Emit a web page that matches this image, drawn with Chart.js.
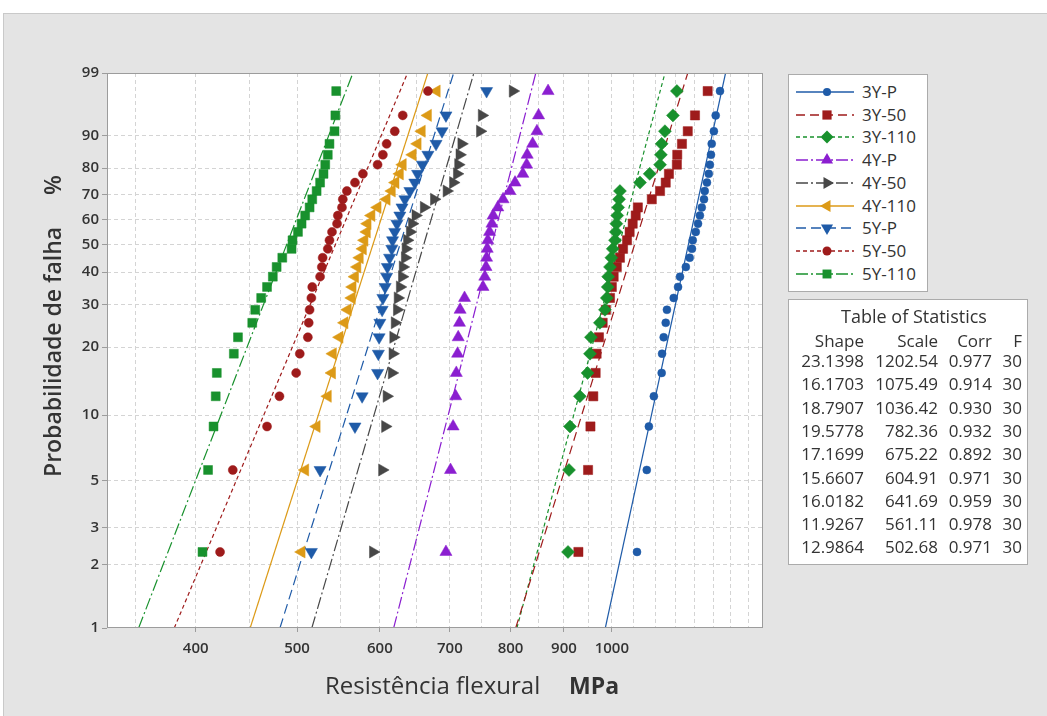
<!DOCTYPE html>
<html>
<head>
<meta charset="utf-8">
<script src="https://cdn.jsdelivr.net/npm/chart.js@4.4.1/dist/chart.umd.min.js"></script>
<style>
  html,body{margin:0;padding:0;background:#fff;width:1047px;height:716px;overflow:hidden;font-family:"Open Sans",sans-serif;color:#333;}
  #bg{position:absolute;left:3px;top:13px;width:1044px;height:703px;background:#e4e4e4;border-top:1px solid #c9c9c9;border-left:1px solid #c9c9c9;box-sizing:border-box;}
  #c{position:absolute;left:0;top:0;}
  .box{position:absolute;background:#fff;border:1px solid #ababab;box-sizing:border-box;}
  .t{position:absolute;white-space:nowrap;}
</style>
</head>
<body>
<div id="bg"></div>
<canvas id="c" width="1047" height="716"></canvas>
<div id="legend" class="box" style="left:788px;top:74px;width:140px;height:218px;"></div>
<div id="stats" class="box" style="left:788px;top:299px;width:240px;height:266px;"></div>
<div class="t" style="left:325px;top:670px;font-size:24px;line-height:30px;">Resistência flexural</div>
<div class="t" style="left:569px;top:670px;font-size:23px;line-height:30px;font-weight:700;">MPa</div>
<div class="t" style="left:37px;top:477px;font-size:23px;line-height:30px;font-weight:600;transform-origin:left top;transform:rotate(-90deg);">Probabilidade de falha</div>
<div class="t" style="left:37px;top:195px;font-size:23px;line-height:30px;font-weight:600;transform-origin:left top;transform:rotate(-90deg);">%</div>
<script>
// ---------------- DATA ----------------
const seriesNames = ['3Y-P','3Y-50','3Y-110','4Y-P','4Y-50','4Y-110','5Y-P','5Y-50','5Y-110'];
// plotting positions (% failure) shared by every series, 30 specimens each
const rankPct = [2.30, 5.59, 8.88, 12.17, 15.46, 18.75, 22.04, 25.33, 28.62, 31.91,
                 35.20, 38.49, 41.78, 45.07, 48.36, 51.64, 54.93, 58.22, 61.51, 64.80,
                 68.09, 71.38, 74.67, 77.96, 81.25, 84.54, 87.83, 91.12, 94.41, 97.70];
const v3YP   = [1057,1080,1085,1097,1116,1117,1121,1126,1129,1146,1157,1162,1177,1187,1193,1195,1203,1209,1214,1219,1225,1227,1233,1238,1241,1244,1246,1252,1257,1269];
const v3Y50  = [929,949,954,960,965,967,972,980,987,996,1000,1004,1011,1018,1025,1034,1040,1047,1054,1059,1092,1112,1126,1134,1154,1155,1167,1182,1201,1235];
const v3Y110 = [908,910,912,932,948,953,955,974,985,989,991,992,996,999,1002,1007,1009,1010,1012,1014,1016,1018,1064,1087,1112,1114,1116,1124,1144,1154];
const v4YP   = [694,701,705,709,710,712,713,715,716,723,753,756,758,759,760,761,764,768,770,778,787,799,808,822,829,830,840,848,851,869];
const v4Y50  = [591,603,607,609,616,617,618,620,623,624,627,630,631,634,635,637,641,644,649,661,676,695,705,711,713,715,718,748,751,804];
const v4Y110 = [505,509,522,535,540,541,549,555,559,564,565,568,571,574,578,580,583,584,589,597,609,616,621,627,631,645,652,658,667,680];
const v5YP   = [516,526,568,577,597,598,599,600,603,604,607,609,610,613,616,617,620,623,627,630,634,641,648,652,659,667,679,688,694,759];
const v5Y50  = [422,434,468,481,499,503,512,513,514,516,517,526,528,529,535,537,540,546,547,552,553,558,568,578,597,604,609,620,631,667];
const v5Y110 = [406,411,416,418,419,435,439,453,456,462,468,474,478,484,494,495,501,505,509,514,517,522,526,530,532,535,537,543,544,545];
// Table of Statistics
const shapes = [23.1398, 16.1703, 18.7907, 19.5778, 17.1699, 15.6607, 16.0182, 11.9267, 12.9864];
const scales = [1202.54, 1075.49, 1036.42, 782.36, 675.22, 604.91, 641.69, 561.11, 502.68];
const corrs  = ['0.977','0.914','0.930','0.932','0.892','0.971','0.959','0.978','0.971'];
const fails  = [30, 30, 30, 30, 30, 30, 30, 30, 30];
// axis ticks
const yTickLabels = [1, 2, 3, 5, 10, 20, 30, 40, 50, 60, 70, 80, 90, 99];
const xTickLabels = [400, 500, 600, 700, 800, 900, 1000];
const xGridValues = [350,400,450,500,550,600,650,700,750,800,850,900,950,1000,1050,1100,1150,1200,1250,1300,1350];

// ---------------- STYLE ----------------
const seriesValues = [v3YP, v3Y50, v3Y110, v4YP, v4Y50, v4Y110, v5YP, v5Y50, v5Y110];
const styles = [
  {color:'#1f5ba8', marker:'circle',   rot:0,   r:4,   dash:[]},
  {color:'#9e1b1b', marker:'rect',     rot:0,   r:6.5, dash:[9,5]},
  {color:'#18912d', marker:'rectRot',  rot:0,   r:6.5, dash:[4,3]},
  {color:'#8b1fd0', marker:'triangle', rot:0,   r:7,   dash:[12,3,2,3]},
  {color:'#474747', marker:'triangle', rot:90,  r:7,   dash:[12,3,2,3]},
  {color:'#dc9a17', marker:'triangle', rot:270, r:7,   dash:[]},
  {color:'#1f5ba8', marker:'triangle', rot:180, r:7,   dash:[10,5]},
  {color:'#9e1b1b', marker:'circle',   rot:0,   r:4.5, dash:[4,3]},
  {color:'#18912d', marker:'rect',     rot:0,   r:6.3, dash:[12,3,2,3]}
];

// Weibull probability transform
const wb = p => Math.log(-Math.log(1 - p / 100));

const pointSets = seriesNames.map((n, k) => ({
  label: n,
  data: seriesValues[k].map((v, i) => ({x: v, y: wb(rankPct[i])})),
  showLine: false,
  pointStyle: styles[k].marker,
  pointRotation: styles[k].rot,
  pointRadius: styles[k].r,
  pointHoverRadius: styles[k].r,
  pointBackgroundColor: styles[k].color,
  pointBorderColor: styles[k].color,
  pointBorderWidth: 0.5,
  order: 50 - k
}));
const fitSets = seriesNames.map((n, k) => {
  const xAt = p => scales[k] * Math.pow(-Math.log(1 - p / 100), 1 / shapes[k]);
  return {
    label: n + ' fit',
    data: [{x: xAt(1), y: wb(1)}, {x: xAt(99), y: wb(99)}],
    showLine: true,
    pointRadius: 0,
    borderColor: styles[k].color,
    borderWidth: 1.2,
    borderDash: styles[k].dash,
    order: 100
  };
});

const plotFrame = {
  id: 'plotFrame',
  beforeDraw(c) {
    const a = c.chartArea, g = c.ctx;
    g.save(); g.fillStyle = '#fff';
    g.fillRect(a.left, a.top, a.right - a.left, a.bottom - a.top);
    g.restore();
  },
  afterDraw(c) {
    const a = c.chartArea, g = c.ctx;
    g.save(); g.strokeStyle = '#9c9c9c'; g.lineWidth = 1;
    g.strokeRect(a.left + 0.5, a.top + 0.5, a.right - a.left - 1, a.bottom - a.top - 1);
    g.restore();
  }
};

new Chart(document.getElementById('c'), {
  type: 'scatter',
  data: {datasets: [...pointSets, ...fitSets]},
  plugins: [plotFrame],
  options: {
    responsive: false,
    animation: false,
    devicePixelRatio: 1,
    layout: {padding: {left: 0, top: 73, right: 284, bottom: 0}},
    plugins: {legend: {display: false}, tooltip: {enabled: false}},
    scales: {
      x: {
        type: 'logarithmic', min: 329, max: 1395, bounds: 'data',
        afterFit(s) { s.height = 88; },
        afterBuildTicks(s) { s.ticks = xGridValues.map(v => ({value: v})); },
        ticks: {
          autoSkip: false, maxRotation: 0, minRotation: 0, padding: 8, color: '#333',
          font: {family: 'Open Sans', size: 15, weight: '600'},
          callback: v => xTickLabels.includes(v) ? String(v) : ''
        },
        grid: {
          color: '#d4d4d4', lineWidth: 1, tickLength: 4,
          tickColor: ctx => (ctx.tick && xTickLabels.includes(ctx.tick.value)) ? '#9c9c9c' : 'rgba(0,0,0,0)'
        },
        border: {display: false, dash: [4, 3]}
      },
      y: {
        type: 'linear', min: wb(1), max: wb(99), bounds: 'data',
        afterFit(s) { s.width = 107; },
        afterBuildTicks(s) { s.ticks = yTickLabels.map(p => ({value: wb(p)})); },
        ticks: {
          autoSkip: false, padding: 3, color: '#333',
          font: {family: 'Open Sans', size: 15, weight: '600'},
          callback: (v, i) => String(yTickLabels[i])
        },
        grid: {
          color: ctx => (ctx.index === 0 || ctx.index === yTickLabels.length - 1) ? 'rgba(0,0,0,0)' : '#d4d4d4',
          lineWidth: 1, tickLength: 5, tickColor: '#9c9c9c'
        },
        border: {display: false, dash: [4, 3]}
      }
    }
  }
});

// ---------------- LEGEND (HTML + SVG samples) ----------------
function markerSvg(st, cx, cy) {
  const r = st.r, c = st.color;
  if (st.marker === 'circle') return `<circle cx="${cx}" cy="${cy}" r="${r}" fill="${c}"/>`;
  if (st.marker === 'rect') { const s = r * 0.7071; return `<rect x="${cx-s}" y="${cy-s}" width="${2*s}" height="${2*s}" fill="${c}"/>`; }
  if (st.marker === 'rectRot') return `<polygon points="${cx},${cy-r} ${cx+r},${cy} ${cx},${cy+r} ${cx-r},${cy}" fill="${c}"/>`;
  const pts = [0, 120, 240].map(d => { const a = (d + st.rot) * Math.PI / 180; return `${(cx + r * Math.sin(a)).toFixed(2)},${(cy - r * Math.cos(a)).toFixed(2)}`; }).join(' ');
  return `<polygon points="${pts}" fill="${c}"/>`;
}
const leg = document.getElementById('legend');
let lh = '';
seriesNames.forEach((n, k) => {
  const st = styles[k];
  const cy = 17 + k * 22.7;
  lh += `<svg style="position:absolute;left:5px;top:${cy - 9}px" width="62" height="18">` +
        `<line x1="2" y1="9" x2="60" y2="9" stroke="${st.color}" stroke-width="1.3" stroke-dasharray="${st.dash.join(' ')}"/>` +
        markerSvg(st, 33, 9) + `</svg>`;
  lh += `<div class="t" style="left:73px;top:${cy - 12}px;font-size:17px;line-height:24px;">${n}</div>`;
});
leg.innerHTML = lh;

// ---------------- TABLE OF STATISTICS ----------------
const stats = document.getElementById('stats');
const colRight = [75, 149, 203, 233];
const cell = (txt, right, cy) => `<div class="t" style="left:${right - 120}px;width:120px;text-align:right;top:${cy - 12}px;font-size:17px;line-height:24px;">${txt}</div>`;
let sh = `<div class="t" style="left:0;width:250px;text-align:center;top:4px;font-size:18px;line-height:24px;">Table of Statistics</div>`;
['Shape', 'Scale', 'Corr', 'F'].forEach((h, j) => { sh += cell(h, colRight[j], 41); });
seriesNames.forEach((n, k) => {
  const cy = 61 + k * 23.3;
  sh += cell(shapes[k].toFixed(4), colRight[0], cy);
  sh += cell(scales[k].toFixed(2), colRight[1], cy);
  sh += cell(corrs[k], colRight[2], cy);
  sh += cell(String(fails[k]), colRight[3], cy);
});
stats.innerHTML = sh;
</script>
</body>
</html>
